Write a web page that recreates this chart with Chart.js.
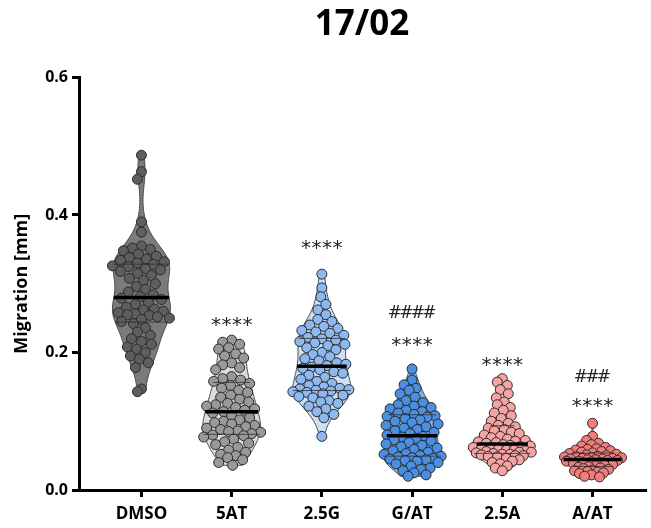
<!DOCTYPE html>
<html>
<head>
<meta charset="utf-8">
<script src="https://cdn.jsdelivr.net/npm/chart.js@4"></script>
<style>
  html, body { margin: 0; padding: 0; background: #fff; }
  #wrap { width: 651px; height: 528px; }
</style>
</head>
<body>
<div id="wrap"><canvas id="chart"></canvas></div>
<script>
const groups = ["DMSO", "5AT", "2.5G", "G/AT", "2.5A", "A/AT"];

const dmso = [0.487, 0.463, 0.452, 0.390, 0.375, 0.355, 0.352, 0.350, 0.348, 0.343, 0.340, 0.338, 0.336, 0.334, 0.332, 0.330, 0.328, 0.326, 0.325, 0.322, 0.320, 0.318, 0.315, 0.312, 0.308, 0.305, 0.300, 0.296, 0.292, 0.288, 0.284, 0.281, 0.279, 0.277, 0.273, 0.270, 0.266, 0.263, 0.262, 0.260, 0.258, 0.256, 0.255, 0.254, 0.252, 0.250, 0.248, 0.245, 0.242, 0.236, 0.230, 0.225, 0.220, 0.216, 0.212, 0.208, 0.205, 0.200, 0.195, 0.190, 0.185, 0.178, 0.147, 0.143];
const at5 = [0.218, 0.215, 0.212, 0.207, 0.205, 0.198, 0.195, 0.192, 0.185, 0.182, 0.178, 0.175, 0.165, 0.162, 0.160, 0.158, 0.155, 0.152, 0.148, 0.145, 0.142, 0.138, 0.135, 0.132, 0.128, 0.126, 0.124, 0.122, 0.120, 0.118, 0.116, 0.114, 0.112, 0.108, 0.105, 0.102, 0.100, 0.098, 0.096, 0.094, 0.092, 0.090, 0.088, 0.086, 0.085, 0.084, 0.082, 0.080, 0.079, 0.077, 0.074, 0.070, 0.068, 0.066, 0.062, 0.058, 0.055, 0.052, 0.050, 0.047, 0.044, 0.040, 0.036];
const g25 = [0.314, 0.294, 0.281, 0.270, 0.262, 0.255, 0.248, 0.245, 0.240, 0.238, 0.235, 0.232, 0.230, 0.228, 0.225, 0.222, 0.220, 0.218, 0.216, 0.214, 0.212, 0.210, 0.207, 0.204, 0.200, 0.197, 0.194, 0.191, 0.188, 0.185, 0.183, 0.181, 0.179, 0.177, 0.175, 0.172, 0.170, 0.167, 0.164, 0.161, 0.158, 0.155, 0.152, 0.150, 0.148, 0.147, 0.146, 0.145, 0.144, 0.143, 0.142, 0.140, 0.138, 0.136, 0.134, 0.130, 0.128, 0.126, 0.122, 0.118, 0.114, 0.110, 0.105, 0.078];
const gat = [0.176, 0.160, 0.153, 0.148, 0.145, 0.140, 0.135, 0.130, 0.127, 0.124, 0.122, 0.120, 0.118, 0.116, 0.114, 0.112, 0.110, 0.108, 0.107, 0.106, 0.104, 0.102, 0.100, 0.098, 0.096, 0.094, 0.092, 0.090, 0.088, 0.086, 0.084, 0.082, 0.080, 0.078, 0.077, 0.075, 0.073, 0.071, 0.069, 0.067, 0.065, 0.063, 0.061, 0.059, 0.057, 0.055, 0.053, 0.052, 0.050, 0.049, 0.048, 0.047, 0.046, 0.045, 0.044, 0.043, 0.042, 0.040, 0.038, 0.035, 0.032, 0.030, 0.028, 0.025, 0.022, 0.020];
const a25 = [0.162, 0.157, 0.152, 0.146, 0.140, 0.134, 0.128, 0.124, 0.120, 0.116, 0.112, 0.108, 0.104, 0.100, 0.097, 0.094, 0.092, 0.090, 0.088, 0.086, 0.084, 0.082, 0.080, 0.078, 0.076, 0.074, 0.072, 0.071, 0.070, 0.069, 0.068, 0.066, 0.065, 0.064, 0.063, 0.062, 0.061, 0.060, 0.059, 0.058, 0.058, 0.057, 0.056, 0.055, 0.055, 0.054, 0.053, 0.052, 0.052, 0.051, 0.050, 0.050, 0.049, 0.048, 0.046, 0.044, 0.042, 0.040, 0.038, 0.035, 0.032, 0.028];
const aat = [0.097, 0.078, 0.072, 0.068, 0.066, 0.064, 0.062, 0.060, 0.059, 0.058, 0.057, 0.056, 0.055, 0.054, 0.053, 0.052, 0.051, 0.050, 0.049, 0.048, 0.048, 0.047, 0.047, 0.046, 0.046, 0.045, 0.045, 0.044, 0.044, 0.043, 0.043, 0.042, 0.042, 0.041, 0.040, 0.039, 0.038, 0.037, 0.036, 0.035, 0.034, 0.033, 0.032, 0.031, 0.030, 0.029, 0.028, 0.027, 0.026, 0.025, 0.024, 0.022, 0.020, 0.019];

const yTicks = [0, 0.2, 0.4, 0.6];

// significance marks above each group (value = height on the y axis)
const starText = ["", "****", "****", "****", "****", "****"];
const starLevel = [null, 0.244, 0.356, 0.215, 0.186, 0.127];
const hashText = ["", "", "", "####", "", "###"];
const hashLevel = [null, null, null, 0.257, null, 0.164];

const allValues = [dmso, at5, g25, gat, a25, aat];
const pointColors = ["#5e5e5e", "#999999", "#8cbaf0", "#4a8fe2", "#f5a3a3", "#f07c7c"];
const violinColors = ["#7b7b7b", "#dcdcdc", "#cde0f7", "#7fb0ee", "#fbd6d6", "#f49c9c"];
const FONT = "'Open Sans', 'Liberation Sans', sans-serif";
const HALF_WIDTH = 29;

function quantile(sorted, p) {
  const pos = (sorted.length - 1) * p;
  const lo = Math.floor(pos), hi = Math.ceil(pos);
  return sorted[lo] + (sorted[hi] - sorted[lo]) * (pos - lo);
}

function density(values, h, y) {
  let s = 0;
  values.forEach(function (v) {
    const u = (y - v) / h;
    s += Math.exp(-0.5 * u * u);
  });
  return s;
}

// violin stats: quartiles + kernel density profile (truncated at min/max)
const stats = allValues.map(function (values) {
  const s = values.slice().sort((a, b) => a - b);
  const n = s.length;
  const mean = s.reduce((a, b) => a + b, 0) / n;
  const sd = Math.sqrt(s.reduce((a, b) => a + (b - mean) * (b - mean), 0) / (n - 1));
  const q1 = quantile(s, 0.25), med = quantile(s, 0.5), q3 = quantile(s, 0.75);
  const h = 0.9 * 0.9 * Math.min(sd, (q3 - q1) / 1.34) * Math.pow(n, -0.2);
  const profile = [];
  const steps = 80;
  for (let k = 0; k <= steps; k++) {
    const v = s[0] + (s[n - 1] - s[0]) * k / steps;
    profile.push({ v: v, d: density(s, h, v) });
  }
  const maxD = Math.max(...profile.map(p => p.d));
  profile.forEach(p => p.w = p.d / maxD);
  const widthAt = v => density(s, h, v) / maxD;
  return { q1, med, q3, profile, widthAt };
});

const violinPlugin = {
  id: "violins",
  beforeDatasetsDraw(chart) {
    const ctx = chart.ctx, x = chart.scales.x, y = chart.scales.y;
    stats.forEach(function (st, i) {
      const cx = x.getPixelForValue(i + 1);
      ctx.save();
      ctx.beginPath();
      st.profile.forEach(function (p, k) {
        const px = cx + p.w * HALF_WIDTH, py = y.getPixelForValue(p.v);
        if (k === 0) ctx.moveTo(px, py); else ctx.lineTo(px, py);
      });
      for (let k = st.profile.length - 1; k >= 0; k--) {
        const p = st.profile[k];
        ctx.lineTo(cx - p.w * HALF_WIDTH, y.getPixelForValue(p.v));
      }
      ctx.closePath();
      ctx.fillStyle = violinColors[i];
      ctx.fill();
      ctx.strokeStyle = "#4a4a4a";
      ctx.lineWidth = 1;
      ctx.stroke();
      ctx.restore();
    });
  },
  afterDatasetsDraw(chart) {
    const ctx = chart.ctx, x = chart.scales.x, y = chart.scales.y;
    stats.forEach(function (st, i) {
      const cx = x.getPixelForValue(i + 1);
      ctx.save();
      [st.q1, st.q3].forEach(function (q) {
        const w = st.widthAt(q) * HALF_WIDTH;
        const py = y.getPixelForValue(q);
        ctx.strokeStyle = "rgba(40,40,40,0.75)";
        ctx.lineWidth = 1;
        ctx.beginPath();
        ctx.moveTo(cx - w, py);
        ctx.lineTo(cx + w, py);
        ctx.stroke();
      });
      const wm = st.widthAt(st.med) * HALF_WIDTH;
      const pm = y.getPixelForValue(st.med);
      ctx.strokeStyle = "#000";
      ctx.lineWidth = 3.5;
      ctx.beginPath();
      ctx.moveTo(cx - wm, pm);
      ctx.lineTo(cx + wm, pm);
      ctx.stroke();
      ctx.restore();
    });
  },
  afterDraw(chart) {
    const ctx = chart.ctx, x = chart.scales.x, y = chart.scales.y;
    function spaced(text, cx, py, gap) {
      const chars = text.split("");
      const start = cx - gap * (chars.length - 1) / 2;
      chars.forEach((c, k) => ctx.fillText(c, start + k * gap, py));
    }
    ctx.save();
    ctx.fillStyle = "#222";
    ctx.textAlign = "center";
    ctx.textBaseline = "middle";
    groups.forEach(function (g, i) {
      const cx = x.getPixelForValue(i + 1);
      if (starText[i]) {
        ctx.font = "20px 'DejaVu Sans', sans-serif";
        spaced(starText[i], cx, y.getPixelForValue(starLevel[i]) + 4, 10.5);
      }
      if (hashText[i]) {
        ctx.font = "17px 'DejaVu Sans', sans-serif";
        spaced(hashText[i], cx, y.getPixelForValue(hashLevel[i]), 11.5);
      }
    });
    ctx.restore();
  }
};

const datasets = allValues.map(function (values, i) {
  return {
    label: groups[i],
    data: values.map(v => ({ x: i + 1, y: v })),
    backgroundColor: pointColors[i],
    borderColor: "#2b2b2b",
    borderWidth: 1,
    pointRadius: 5,
    pointHoverRadius: 5,
    clip: false
  };
});

const chart = new Chart(document.getElementById("chart"), {
  type: "scatter",
  data: { datasets: datasets },
  options: {
    responsive: true,
    maintainAspectRatio: false,
    animation: false,
    layout: { padding: { left: 0, right: 1, top: 0, bottom: 0 } },
    plugins: {
      legend: { display: false },
      tooltip: { enabled: false },
      title: {
        display: true,
        text: "17/02",
        color: "#000",
        fullSize: false,
        font: { family: FONT, size: 35, weight: "bold" },
        padding: { top: 4, bottom: 31.5 }
      }
    },
    scales: {
      x: {
        type: "linear",
        min: 0.308,
        max: 6.582,
        afterBuildTicks: axis => { axis.ticks = groups.map((g, i) => ({ value: i + 1 })); },
        afterFit: axis => { axis.height = 38; },
        ticks: {
          autoSkip: false,
          maxRotation: 0,
          padding: 7,
          color: "#000",
          font: { family: FONT, size: 17, weight: "bold" },
          callback: v => groups[v - 1]
        },
        grid: { drawOnChartArea: false, drawTicks: true, tickLength: 7, color: "#000", lineWidth: 3 },
        border: { color: "#000", width: 3 }
      },
      y: {
        min: 0,
        max: 0.6,
        afterBuildTicks: axis => { axis.ticks = yTicks.map(v => ({ value: v })); },
        afterFit: axis => { axis.width = 79; },
        ticks: {
          padding: 4,
          color: "#000",
          font: { family: FONT, size: 16, weight: "bold" },
          callback: v => v.toFixed(1)
        },
        title: {
          display: true,
          text: "Migration [mm]",
          color: "#000",
          padding: { top: 11, bottom: 0 },
          font: { family: FONT, size: 18, weight: "bold" }
        },
        grid: { drawOnChartArea: false, drawTicks: true, tickLength: 7, color: "#000", lineWidth: 3 },
        border: { color: "#000", width: 3 }
      }
    }
  },
  plugins: [violinPlugin]
});

// spread the points sideways inside each violin, packing them like a swarm
function spreadPoints() {
  const x = chart.scales.x, y = chart.scales.y;
  const dist = 9;
  chart.data.datasets.forEach(function (ds, i) {
    const cx = x.getPixelForValue(i + 1);
    const st = stats[i];
    const placed = [];
    const order = allValues[i].map((v, k) => k).sort((a, b) => allValues[i][b] - allValues[i][a]);
    order.forEach(function (k) {
      const v = allValues[i][k];
      const py = y.getPixelForValue(v);
      const lim = Math.max(st.widthAt(v) * HALF_WIDTH + 1, 3);
      let best = 0, bestScore = -Infinity;
      for (let c = -Math.floor(lim); c <= Math.floor(lim); c++) {
        let md = dist;
        placed.forEach(function (p) {
          const d = Math.sqrt((p.x - c) * (p.x - c) + (p.y - py) * (p.y - py));
          if (d < md) md = d;
        });
        const score = md * 10 - Math.abs(c) * 0.3;
        if (score > bestScore) { bestScore = score; best = c; }
      }
      placed.push({ x: best, y: py });
      ds.data[k].x = x.getValueForPixel(cx + best);
    });
  });
  chart.update("none");
}
spreadPoints();
</script>
</body>
</html>
